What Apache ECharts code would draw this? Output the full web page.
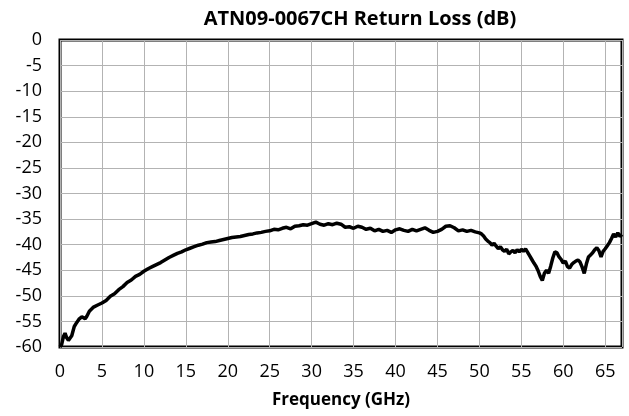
<!DOCTYPE html>
<html>
<head>
<meta charset="utf-8">
<script src="https://cdn.jsdelivr.net/npm/echarts@6/dist/echarts.min.js"></script>
<style>
  html, body { margin: 0; padding: 0; background: #fff; }
  #chart { width: 629px; height: 416px; }
</style>
</head>
<body>
<div id="chart"></div>
<script>
// frequency in GHz
const freqs = [
  0, 0.2, 0.4, 0.6, 0.8, 1.0, 1.2, 1.4, 1.7, 2.0, 2.3, 2.6, 2.8, 3.0, 3.2, 3.5,
  4.0, 4.5, 5.0, 5.5, 6.0, 6.5, 7.0, 7.5, 8.0, 8.5, 9.0, 9.5, 10.0, 10.5, 11.0,
  11.5, 12.0, 12.5, 13.0, 13.5, 14.0, 14.5, 15.0, 15.5, 16.0, 16.5, 17.0, 17.5,
  18.0, 18.5, 19.0, 19.5,
  20.0, 20.5, 21.0, 21.5, 22.0, 22.5, 23.0, 23.5, 24.0, 24.5, 25.0, 25.5, 26.0,
  26.5, 27.0, 27.5, 28.0, 28.5, 29.0, 29.5, 30.0, 30.5, 31.0, 31.5, 32.0, 32.5,
  33.0, 33.5, 34.0, 34.5, 35.0, 35.5, 36.0, 36.5, 37.0, 37.5, 38.0, 38.5, 39.0,
  39.5, 40.0, 40.5, 41.0, 41.5, 42.0, 42.5, 43.0, 43.5, 44.0, 44.5, 45.0, 45.5,
  46.0, 46.5, 47.0, 47.5, 48.0, 48.5, 49.0, 49.5, 50.0,
  50.25, 50.5, 50.75, 51.0, 51.25, 51.5, 51.75, 52.0, 52.25, 52.5, 52.75, 53.0,
  53.25, 53.5, 53.75, 54.0, 54.25, 54.5, 54.75, 55.0, 55.25, 55.5, 55.75, 56.0,
  56.25, 56.5, 56.75, 57.0, 57.25, 57.5, 57.75, 58.0, 58.25, 58.5, 58.75, 59.0,
  59.25, 59.5, 59.75, 60.0, 60.25, 60.5, 60.75, 61.0, 61.25, 61.5, 61.75, 62.0,
  62.25, 62.5, 62.75, 63.0, 63.25, 63.5, 63.75, 64.0, 64.25, 64.5, 64.75, 65.0,
  65.25, 65.5, 65.75, 66.0, 66.25, 66.5, 66.75, 67.0
];
// return loss in dB
const returnLoss = [
  -60, -59.5, -58, -57.3, -58.2, -58.7, -58.6, -57.8, -56, -55.2, -54.5, -54.1, -54.3, -54.5, -54, -53,
  -52.2, -51.8, -51.4, -50.9, -50.1, -49.6, -48.8, -48.2, -47.4, -46.9, -46.2, -45.8, -45.2, -44.7, -44.3,
  -43.9, -43.5, -43, -42.5, -42.1, -41.7, -41.4, -41.0, -40.7, -40.4, -40.1, -39.9, -39.6,
  -39.5, -39.4, -39.2, -39.0,
  -38.8, -38.6, -38.5, -38.4, -38.2, -38.0, -37.9, -37.7, -37.6, -37.4, -37.3, -37.0, -37.1,
  -36.8, -36.6, -36.9, -36.4, -36.3, -36.1, -36.2, -35.9, -35.6, -36.0, -36.2, -35.9, -36.1,
  -35.8, -36.0, -36.6, -36.5, -36.8, -36.4, -36.6, -37.0, -36.8, -37.3, -37.0, -37.4, -37.2,
  -37.6, -37.1, -36.9, -37.2, -37.4, -37.0, -37.3, -37.0, -36.7, -37.2, -37.6, -37.4, -37.0,
  -36.4, -36.3, -36.7, -37.3, -37.1, -37.4, -37.2, -37.5, -37.7,
  -37.9, -38.3, -38.9, -39.3, -39.6, -40.1, -39.7, -40.3, -40.8, -40.4, -41.0, -41.3,
  -40.9, -41.8, -41.4, -41.1, -41.6, -41.0, -41.4, -40.9, -41.3, -40.8, -41.5, -42.2,
  -42.9, -43.6, -44.2, -45.1, -46.2, -47.0, -45.6, -45.0, -45.6, -44.2, -42.6, -41.4,
  -41.6, -42.4, -42.9, -43.6, -43.2, -44.3, -44.6, -43.9, -43.5, -43.2, -43.0, -43.4,
  -44.4, -45.6, -43.8, -42.4, -42.0, -41.6, -41.0, -40.6, -41.2, -42.4, -41.3, -40.8,
  -40.2, -39.6, -38.8, -37.9, -38.5, -37.7, -38.4, -38.0
];

const chart = echarts.init(document.getElementById("chart"));

const fontFamily = "'Open Sans', sans-serif";

const option = {
  backgroundColor: "#fff",
  animation: false,
  textStyle: { fontFamily: fontFamily, color: "#000" },
  title: {
    text: "ATN09-0067CH Return Loss (dB)",
    left: 355,
    top: 4,
    textAlign: "center",
    textStyle: { fontSize: 20, fontWeight: "bold", color: "#000", fontFamily: fontFamily },
  },
  grid: {
    left: 60,
    right: 7,
    top: 40,
    bottom: 69,
    show: true,
    borderColor: "#000",
    borderWidth: 3,
  },
  xAxis: {
    type: "value",
    min: 0,
    max: 67,
    interval: 5,
    name: "Frequency (GHz)",
    nameLocation: "middle",
    nameGap: 45,
    nameTextStyle: { fontSize: 17, fontWeight: "bold", color: "#000", fontFamily: fontFamily },
    axisLine: { show: false },
    axisTick: { show: false },
    axisLabel: { fontSize: 18, color: "#000", margin: 16, showMaxLabel: false, fontFamily: fontFamily },
    splitLine: { show: true, lineStyle: { color: "#b3b3b3", width: 1 } },
  },
  yAxis: {
    type: "value",
    min: -60,
    max: 0,
    interval: 5,
    axisLine: { show: false },
    axisTick: { show: false },
    axisLabel: { fontSize: 18, color: "#000", margin: 18, fontFamily: fontFamily },
    splitLine: { show: true, lineStyle: { color: "#b3b3b3", width: 1 } },
  },
  series: [
    {
      type: "line",
      data: freqs.map((f, i) => [f, returnLoss[i]]),
      showSymbol: false,
      smooth: false,
      lineStyle: { color: "#000", width: 3.5 },
      z: 3,
    },
  ],
};

chart.setOption(option);
</script>
</body>
</html>
